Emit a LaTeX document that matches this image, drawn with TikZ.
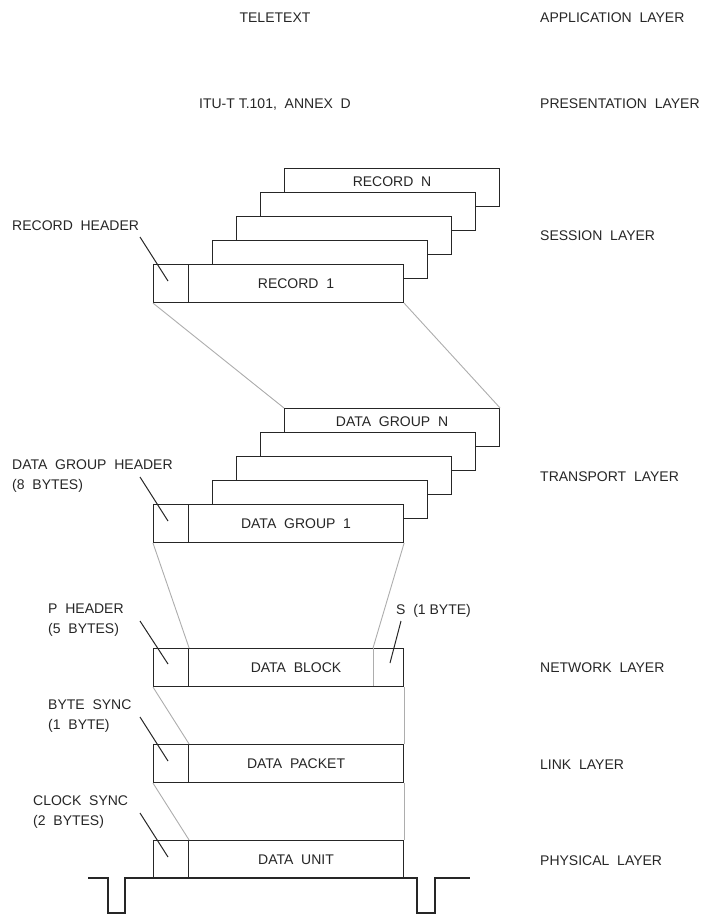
\documentclass[tikz,border=0pt]{standalone}
\usepackage{fontspec}
\setmainfont{Liberation Sans}
\begin{document}
\tikzset{
  boxs/.style={draw=black!85, line width=1.1pt, fill=white, minimum height=38pt, inner sep=0pt, anchor=north west,
    font=\fontsize{14}{20}\selectfont, text=black!85},
  hdr/.style={boxs, minimum width=35pt},
  body/.style={boxs, minimum width=215pt},
  topbody/.style={body, text height=10pt, text depth=13pt},
  gl/.style={draw=black!32, line width=0.9pt},
  ld/.style={draw=black!85, line width=1pt},
  txt/.style={font=\fontsize{14}{20}\selectfont, text=black!85, inner sep=0pt},
  lbl/.style={txt, anchor=west, text height=10pt, text depth=0pt},
  mlbl/.style={txt, anchor=north west, align=left},
  wave/.style={draw=black!85, line width=1.1pt},
}
\begin{tikzpicture}[x=1pt,y=-1pt]
\useasboundingbox (0,0) rectangle (709,914);

% top labels
\node[lbl, anchor=center] (tt) at (275,17) {TELETEXT};
\node[lbl, anchor=center] (itu) at (275,103) {ITU-T T.101,~~ANNEX~~D};
\node[lbl] (lapp) at (540,17) {APPLICATION~~LAYER};
\node[lbl] (lpres) at (540,103) {PRESENTATION~~LAYER};
\node[lbl] (lses) at (540,235) {SESSION~~LAYER};
\node[lbl] (ltra) at (540,476) {TRANSPORT~~LAYER};
\node[lbl] (lnet) at (540,667) {NETWORK~~LAYER};
\node[lbl] (llnk) at (540,764) {LINK~~LAYER};
\node[lbl] (lphy) at (540,860) {PHYSICAL~~LAYER};

% record stack
\node[topbody] (recN) at (284,168) {RECORD~~N};
\node[body] (rec3) at (260,192) {};
\node[body] (rec2) at (236,216) {};
\node[body] (rec1b) at (212,240) {};
\node[hdr] (rech) at (153,264) {};
\node[body] (rec1) at (188,264) {RECORD~~1};

% data group stack
\node[topbody] (dgN) at (284,408) {DATA~~GROUP~~N};
\node[body] (dg3) at (260,432) {};
\node[body] (dg2) at (236,456) {};
\node[body] (dg1b) at (212,480) {};
\node[hdr] (dgh) at (153,504) {};
\node[body] (dg1) at (188,504) {DATA~~GROUP~~1};

% data block, packet, unit
\node[hdr] (dbh) at (153,648) {};
\node[body] (db) at (188,648) {DATA~~BLOCK};
\coordinate (sTop) at (373,648);
\coordinate (sBot) at (373,686);
\node[hdr] (dph) at (153,744) {};
\node[body] (dp) at (188,744) {DATA~~PACKET};
\node[hdr] (duh) at (153,840) {};
\node[body] (du) at (188,840) {DATA~~UNIT};

% grey mapping lines
\draw[gl] (rech.south west) -- (dgN.north west);
\draw[gl] (rec1.south east) -- (dgN.north east);
\draw[gl] (dgh.south west) -- (dbh.north east);
\draw[gl] (dg1.south east) -- (sTop);
\draw[gl] (sTop) -- (sBot);
\draw[gl] (dbh.south west) -- (dph.north east);
\draw[gl] (db.south east) -- (dp.north east);
\draw[gl] (dph.south west) -- (duh.north east);
\draw[gl] (dp.south east) -- (du.north east);

% side labels and leaders
\node[lbl] (lrh) at (12,225) {RECORD~~HEADER};
\coordinate (lrhA) at (140,237); \coordinate (lrhB) at (168,281);
\draw[ld] (lrhA) -- (lrhB);

\node[mlbl] (ldgh) at (12,460) {DATA~~GROUP~~HEADER\\(8~~BYTES)};
\coordinate (ldghA) at (140,477); \coordinate (ldghB) at (168,521);
\draw[ld] (ldghA) -- (ldghB);

\node[mlbl] (lph) at (48,604) {P~~HEADER\\(5~~BYTES)};
\coordinate (lphA) at (140,621); \coordinate (lphB) at (168,664);
\draw[ld] (lphA) -- (lphB);

\node[lbl] (ls) at (396,609) {S~~(1 BYTE)};
\coordinate (lsA) at (401,621); \coordinate (lsB) at (390,663);
\draw[ld] (lsA) -- (lsB);

\node[mlbl] (lbs) at (48,700) {BYTE~~SYNC\\(1~~BYTE)};
\coordinate (lbsA) at (140,717); \coordinate (lbsB) at (168,761);
\draw[ld] (lbsA) -- (lbsB);

\node[mlbl] (lcs) at (33,796) {CLOCK~~SYNC\\(2~~BYTES)};
\coordinate (lcsA) at (140,813); \coordinate (lcsB) at (168,857);
\draw[ld] (lcsA) -- (lcsB);

% physical waveform
\draw[wave] (88,878) -- (108,878) -- (108,913) -- (125,913) -- (125,878) -- (417,878)
  -- (417,913) -- (435,913) -- (435,878) -- (470,878);
\end{tikzpicture}
\end{document}
